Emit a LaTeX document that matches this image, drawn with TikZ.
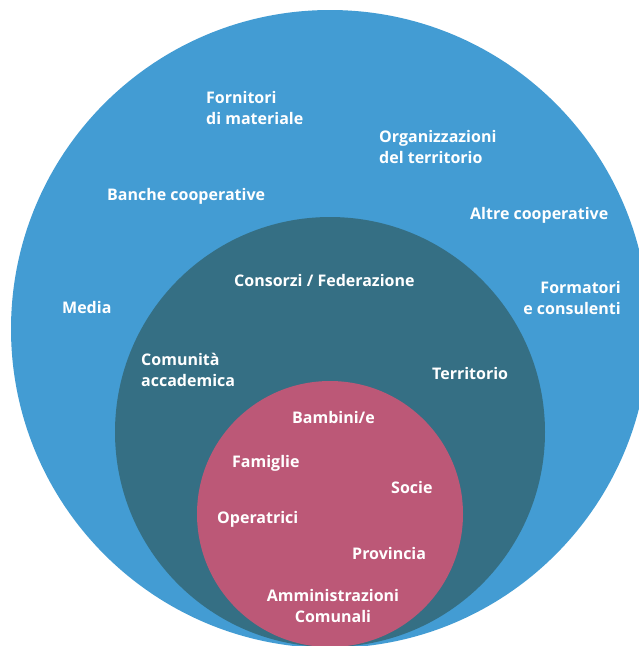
\documentclass[tikz,border=0pt]{standalone}
\usepackage{fontspec}
\setmainfont{Open Sans}
\definecolor{outerblue}{HTML}{439CD3}
\definecolor{midteal}{HTML}{356F84}
\definecolor{innerpink}{HTML}{BC5877}
\begin{document}
\begin{tikzpicture}[x=1pt,y=-1pt,
  ring/.style={circle,inner sep=0pt,draw=none},
  lbl/.style={text=white,inner sep=0pt,font=\bfseries\fontsize{16}{21.5}\selectfont},
  lw/.style={lbl,anchor=base west},
  le/.style={lbl,anchor=base east},
  lc/.style={lbl,anchor=base}]
\useasboundingbox (0,0) rectangle (639,646);
\clip (0,0) rectangle (639,646);
\node[ring,fill=outerblue,minimum size=638pt] (outer) at (330,329) {};
\node[ring,fill=midteal,minimum size=430pt] (middle) at (330,432) {};
\node[ring,fill=innerpink,minimum size=266pt] (inner) at (330,514) {};
% outer ring labels
\node[lw] (fornitori) at (206,103) {\begin{tabular}[t]{@{}l@{}}Fornitori\\di materiale\end{tabular}};
\node[lw] (organizzazioni) at (379,142) {\begin{tabular}[t]{@{}l@{}}Organizzazioni\\del territorio\end{tabular}};
\node[lw] (banche) at (107,200) {Banche cooperative};
\node[lw] (altre) at (470,219) {Altre cooperative};
\node[lw] (media) at (62,313) {Media};
\node[le] (formatori) at (621,293) {\begin{tabular}[t]{@{}r@{}}Formatori\\e consulenti\end{tabular}};
% middle ring labels
\node[lw] (consorzi) at (234,286) {Consorzi / Federazione};
\node[lw] (comunita) at (141,365) {\begin{tabular}[t]{@{}l@{}}Comunità\\accademica\end{tabular}};
\node[lw] (territorio) at (432,379) {Territorio};
% inner circle labels
\node[lw] (bambini) at (292,423) {Bambini/e};
\node[lw] (famiglie) at (232,467) {Famiglie};
\node[lw] (socie) at (391,493) {Socie};
\node[lw] (operatrici) at (217,523) {Operatrici};
\node[lw] (provincia) at (352,559) {Provincia};
\node[lc] (amministrazioni) at (333,601) {\begin{tabular}[t]{@{}c@{}}Amministrazioni\\Comunali\end{tabular}};
\end{tikzpicture}
\end{document}
